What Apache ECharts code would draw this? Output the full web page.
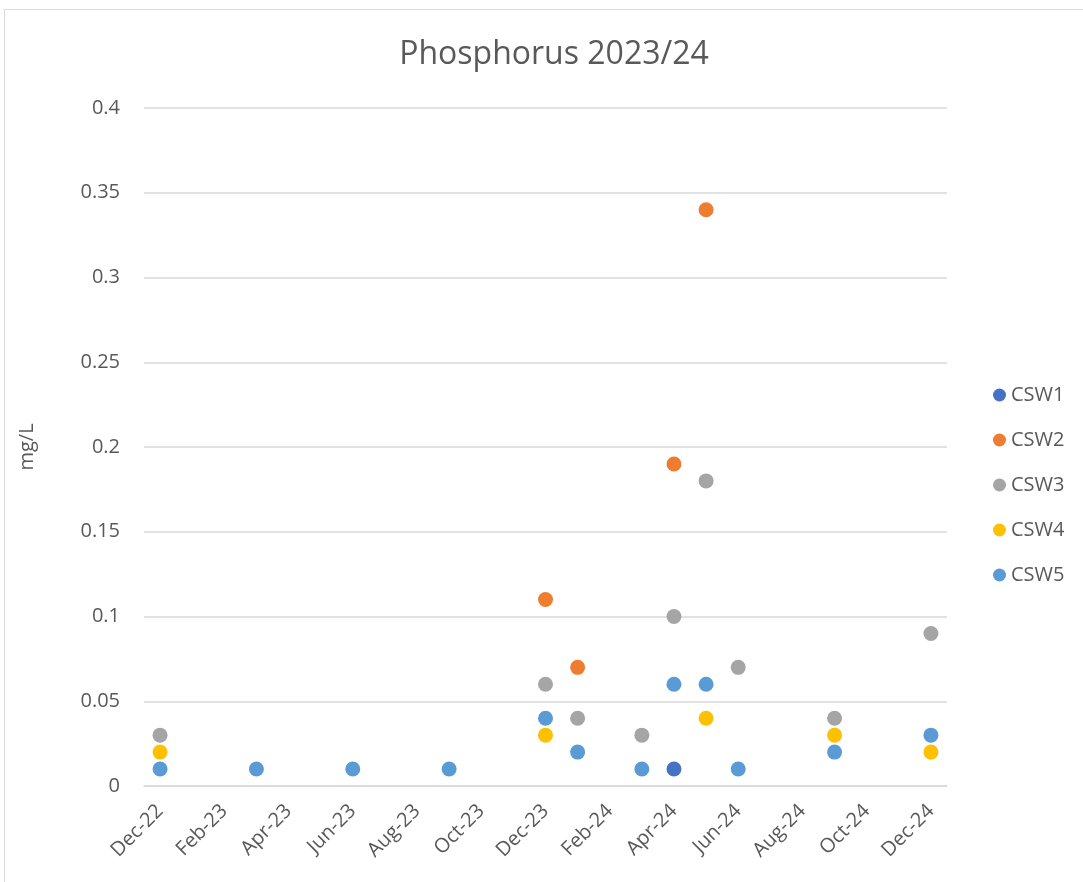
<!DOCTYPE html>
<html>
<head>
<meta charset="utf-8">
<script src="https://cdn.jsdelivr.net/npm/echarts@6/dist/echarts.min.js"></script>
<style>
  body { margin: 0; background: #fff; }
  #main { width: 1083px; height: 882px; }
</style>
</head>
<body>
<div id="main"></div>
<script>
var months = ['Dec-22', 'Jan-23', 'Feb-23', 'Mar-23', 'Apr-23', 'May-23', 'Jun-23', 'Jul-23', 'Aug-23',
    'Sep-23', 'Oct-23', 'Nov-23', 'Dec-23', 'Jan-24', 'Feb-24', 'Mar-24', 'Apr-24', 'May-24', 'Jun-24',
    'Jul-24', 'Aug-24', 'Sep-24', 'Oct-24', 'Nov-24', 'Dec-24'];

// [month, mg/L]
var csw1 = [['Apr-24', 0.01]];
var csw2 = [['Dec-23', 0.11], ['Jan-24', 0.07], ['Apr-24', 0.19], ['May-24', 0.34]];
var csw3 = [['Dec-22', 0.03], ['Dec-23', 0.06], ['Jan-24', 0.04], ['Mar-24', 0.03], ['Apr-24', 0.10],
    ['May-24', 0.18], ['Jun-24', 0.07], ['Sep-24', 0.04], ['Dec-24', 0.09]];
var csw4 = [['Dec-22', 0.02], ['Dec-23', 0.03], ['May-24', 0.04], ['Sep-24', 0.03], ['Dec-24', 0.02]];
var csw5 = [['Dec-22', 0.01], ['Mar-23', 0.01], ['Jun-23', 0.01], ['Sep-23', 0.01], ['Dec-23', 0.04],
    ['Jan-24', 0.02], ['Mar-24', 0.01], ['Apr-24', 0.06], ['May-24', 0.06], ['Jun-24', 0.01],
    ['Sep-24', 0.02], ['Dec-24', 0.03]];

var seriesNames = ['CSW1', 'CSW2', 'CSW3', 'CSW4', 'CSW5'];
var seriesData = [csw1, csw2, csw3, csw4, csw5];
var colors = ['#4472C4', '#ED7D31', '#A5A5A5', '#FFC000', '#5B9BD5'];

var font = 'Open Sans, sans-serif';
var chart = echarts.init(document.getElementById('main'));

var option = {
    animation: false,
    color: colors,
    title: {
        text: 'Phosphorus 2023/24',
        top: 34,
        left: 549,
        textAlign: 'center',
        textStyle: { fontFamily: font, fontSize: 32, fontWeight: 'normal', color: '#595959' }
    },
    legend: {
        orient: 'vertical',
        left: 988,
        top: 380,
        itemWidth: 13,
        itemHeight: 13,
        itemGap: 25,
        icon: 'circle',
        textStyle: { fontFamily: font, fontSize: 20, color: '#595959' },
        data: seriesNames
    },
    grid: { left: 144, right: 136, top: 108, bottom: 96 },
    xAxis: {
        type: 'category',
        data: months,
        boundaryGap: true,
        axisLine: { lineStyle: { color: '#D9D9D9', width: 1.5 } },
        axisTick: { show: false },
        axisLabel: { interval: 1, rotate: 45, margin: 22, fontFamily: font, fontSize: 20, color: '#595959' }
    },
    yAxis: {
        type: 'value',
        min: 0,
        max: 0.4,
        interval: 0.05,
        name: 'mg/L',
        nameLocation: 'middle',
        nameGap: 107,
        nameTextStyle: { fontFamily: font, fontSize: 20, color: '#595959' },
        axisLine: { show: false },
        axisTick: { show: false },
        axisLabel: { margin: 24, fontFamily: font, fontSize: 20, color: '#595959' },
        splitLine: { lineStyle: { color: '#D9D9D9', width: 1.5 } }
    },
    graphic: [{
        type: 'rect',
        shape: { x: 4.5, y: 9.5, width: 1090, height: 880 },
        style: { fill: 'none', stroke: '#D9D9D9', lineWidth: 1 },
        silent: true
    }],
    series: seriesNames.map(function (name, i) {
        return {
            name: name,
            type: 'scatter',
            symbol: 'circle',
            symbolSize: 15,
            itemStyle: { opacity: 1 },
            data: seriesData[i]
        };
    })
};

chart.setOption(option);
</script>
</body>
</html>
